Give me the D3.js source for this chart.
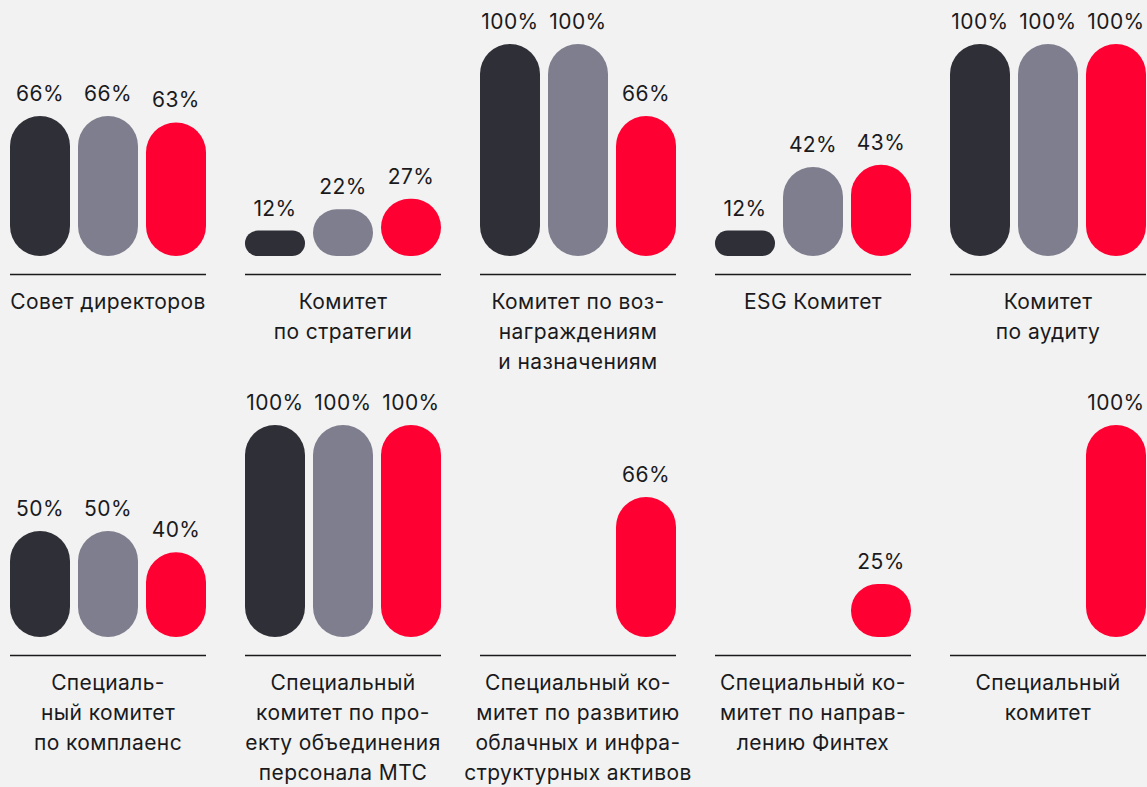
<!DOCTYPE html>
<html>
<head>
<meta charset="utf-8">
<script src="https://d3js.org/d3.v7.min.js"></script>
<style>
  body { margin: 0; background: #f2f2f2; }
  svg { display: block; background: #f2f2f2; }
  .val, .cat { font-family: 'Inter', sans-serif; font-size: 21px; letter-spacing: 0.4px; fill: #1a1a1c; }
</style>
</head>
<body>
<div id="chart"></div>
<script>
  // committees, in reading order (5 per row)
  var committees = [
    ["Совет директоров"],
    ["Комитет", "по стратегии"],
    ["Комитет по воз-", "награждениям", "и назначениям"],
    ["ESG Комитет"],
    ["Комитет", "по аудиту"],
    ["Специаль-", "ный комитет", "по комплаенс"],
    ["Специальный", "комитет по про-", "екту объединения", "персонала МТС"],
    ["Специальный ко-", "митет по развитию", "облачных и инфра-", "структурных активов"],
    ["Специальный ко-", "митет по направ-", "лению Финтех"],
    ["Специальный", "комитет"]
  ];

  // three series per committee (dark, grey, red), percent; null = no bar
  var seriesA = [66, 12, 100, 12, 100, 50, 100, null, null, null];
  var seriesB = [66, 22, 100, 42, 100, 50, 100, null, null, null];
  var seriesC = [63, 27, 66, 43, 100, 40, 100, 66, 25, 100];

  var seriesKeys = ["a", "b", "c"];
  var colors = { a: "#2f2f37", b: "#7f7e8e", c: "#ff0032" };

  var W = 1147, H = 787;
  var svg = d3.select("#chart").append("svg")
    .attr("width", W)
    .attr("height", H);

  var col = d3.scaleBand()
    .domain(d3.range(5))
    .range([10, 1146])
    .paddingInner(39 / 235)
    .paddingOuter(0);

  var inner = d3.scaleBand()
    .domain(seriesKeys)
    .range([0, col.bandwidth()])
    .paddingInner(8 / 68)
    .paddingOuter(0);

  var rowTop = [0, 381];

  var y = d3.scaleLinear()
    .domain([0, 100])
    .range([256, 44]);

  var data = committees.map(function (lines, i) {
    return {
      lines: lines,
      row: Math.floor(i / 5),
      col: i % 5,
      values: [
        { key: "a", v: seriesA[i] },
        { key: "b", v: seriesB[i] },
        { key: "c", v: seriesC[i] }
      ].filter(function (d) { return d.v != null; })
    };
  });

  var panels = svg.selectAll("g.panel")
    .data(data)
    .enter()
    .append("g")
    .attr("class", "panel")
    .attr("transform", function (d) { return "translate(" + col(d.col) + "," + rowTop[d.row] + ")"; });

  // bars
  panels.selectAll("rect.bar")
    .data(function (d) { return d.values; })
    .enter()
    .append("rect")
    .attr("class", "bar")
    .attr("x", function (d) { return inner(d.key); })
    .attr("y", function (d) { return y(d.v); })
    .attr("width", inner.bandwidth())
    .attr("height", function (d) { return y(0) - y(d.v); })
    .attr("rx", function (d) { return Math.min(inner.bandwidth(), y(0) - y(d.v)) / 2; })
    .style("fill", function (d) { return colors[d.key]; });

  // value labels
  panels.selectAll("text.val")
    .data(function (d) { return d.values; })
    .enter()
    .append("text")
    .attr("class", "val")
    .attr("x", function (d) { return inner(d.key) + inner.bandwidth() / 2; })
    .attr("y", function (d) { return y(d.v) - 15; })
    .attr("text-anchor", "middle")
    .text(function (d) { return d.v + "%"; });

  // baseline
  panels.append("line")
    .attr("x1", 0)
    .attr("x2", col.bandwidth())
    .attr("y1", y(0) + 18.5)
    .attr("y2", y(0) + 18.5)
    .style("stroke", "#1a1a1c")
    .style("stroke-width", 1.5);

  // committee names
  panels.append("text")
    .attr("class", "cat")
    .attr("text-anchor", "middle")
    .attr("x", col.bandwidth() / 2)
    .attr("y", y(0) + 53)
    .selectAll("tspan")
    .data(function (d) { return d.lines; })
    .enter()
    .append("tspan")
    .attr("x", col.bandwidth() / 2)
    .attr("dy", function (d, i) { return i === 0 ? 0 : 30; })
    .text(function (d) { return d; });
</script>
</body>
</html>
